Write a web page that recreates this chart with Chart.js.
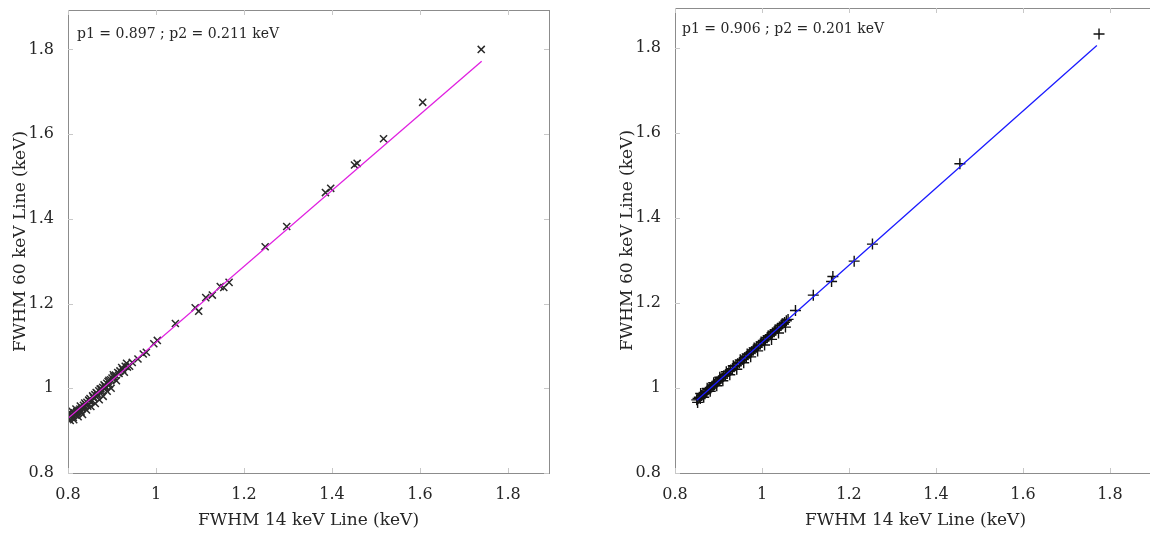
<!DOCTYPE html>
<html>
<head>
<meta charset="utf-8">
<script src="https://cdn.jsdelivr.net/npm/chart.js@4.4.0/dist/chart.umd.min.js"></script>
<style>
  html, body { margin: 0; padding: 0; background: #fff; overflow: hidden; width: 1150px; height: 534px; }
  canvas { position: absolute; top: 0; }
</style>
</head>
<body>
<canvas id="leftChart" width="560" height="534" style="left:0"></canvas>
<canvas id="rightChart" width="600" height="534" style="left:590px"></canvas>
<script>
// axis ticks shared by both panels
const tickValues = [0.8, 1, 1.2, 1.4, 1.6, 1.8];

// left panel: FWHM 14 keV vs 60 keV (x markers)
const leftX = [0.800, 0.802, 0.804, 0.806, 0.808, 0.810, 0.812, 0.815, 0.817, 0.820, 0.822, 0.825, 0.827, 0.830,
  0.832, 0.835, 0.837, 0.840, 0.843, 0.845, 0.848, 0.850, 0.853, 0.856, 0.858, 0.861, 0.864, 0.867, 0.870, 0.873,
  0.876, 0.879, 0.882, 0.885, 0.888, 0.891, 0.894, 0.897, 0.900, 0.904, 0.908, 0.913, 0.918, 0.924, 0.930, 0.935,
  0.801, 0.805, 0.809, 0.813, 0.818, 0.823, 0.828, 0.833, 0.838, 0.842, 0.847, 0.852, 0.857, 0.862, 0.866, 0.871,
  0.875, 0.880, 0.884, 0.889, 0.893, 0.898, 0.903, 0.910, 0.916, 0.922, 0.928, 0.933, 0.940, 0.946,
  0.959, 0.971, 0.978, 0.995, 1.003, 1.044, 1.089, 1.097, 1.113, 1.128, 1.146, 1.154, 1.166, 1.248, 1.297, 1.385,
  1.397, 1.451, 1.457, 1.517, 1.606, 1.739];
const leftY = [0.930, 0.928, 0.936, 0.932, 0.939, 0.935, 0.931, 0.942, 0.937, 0.945, 0.940, 0.948, 0.951, 0.944,
  0.953, 0.960, 0.955, 0.962, 0.967, 0.958, 0.971, 0.976, 0.969, 0.982, 0.977, 0.985, 0.990, 0.983, 0.994, 0.998,
  0.991, 1.002, 1.008, 1.001, 1.012, 1.016, 1.009, 1.020, 1.024, 1.027, 1.031, 1.037, 1.041, 1.045, 1.052, 1.050,
  0.941, 0.924, 0.946, 0.926, 0.951, 0.933, 0.958, 0.938, 0.965, 0.949, 0.972, 0.957, 0.980, 0.964, 0.988, 0.973,
  0.999, 0.981, 1.006, 0.993, 1.019, 1.000, 1.032, 1.018, 1.035, 1.049, 1.038, 1.059, 1.052, 1.061,
  1.069, 1.081, 1.085, 1.105, 1.113, 1.153, 1.190, 1.182, 1.214, 1.220, 1.240, 1.238, 1.250, 1.334, 1.382, 1.462,
  1.472, 1.527, 1.531, 1.589, 1.675, 1.800];
const leftFitX = [0.80, 1.74];
const leftFitY = [0.929, 1.772];
const leftNote = 'p1 = 0.897 ; p2 = 0.211 keV';

// right panel (+ markers)
const rightX = [0.850, 0.853, 0.856, 0.858, 0.861, 0.864, 0.867, 0.870, 0.873, 0.876, 0.879, 0.882, 0.885, 0.888,
  0.891, 0.894, 0.897, 0.900, 0.904, 0.908, 0.912, 0.916, 0.920, 0.924, 0.928, 0.932, 0.936, 0.940, 0.944, 0.948,
  0.952, 0.956, 0.960, 0.964, 0.968, 0.972, 0.976, 0.980, 0.984, 0.988, 0.992, 0.996, 1.000, 1.004, 1.008, 1.012,
  1.016, 1.020, 1.024, 1.028, 1.032, 1.036, 1.040, 1.044, 1.048, 1.052, 1.056, 1.060,
  0.852, 0.859, 0.866, 0.874, 0.881, 0.889, 0.896, 0.903, 0.910, 0.918, 0.926, 0.934, 0.942, 0.950, 0.958, 0.966,
  0.974, 0.982, 0.990, 0.998, 1.006, 1.014, 1.022, 1.030, 1.038, 1.046, 1.054,
  1.077, 1.118, 1.160, 1.163, 1.212, 1.254, 1.455, 1.775];
const rightY = [0.972, 0.975, 0.978, 0.975, 0.982, 0.984, 0.987, 0.990, 0.991, 0.996, 0.998, 1.000, 1.004, 1.006,
  1.008, 1.011, 1.014, 1.016, 1.021, 1.023, 1.028, 1.031, 1.034, 1.039, 1.042, 1.045, 1.050, 1.052, 1.057, 1.059,
  1.064, 1.067, 1.071, 1.074, 1.078, 1.082, 1.085, 1.089, 1.092, 1.096, 1.100, 1.103, 1.107, 1.111, 1.114, 1.118,
  1.122, 1.125, 1.129, 1.132, 1.136, 1.140, 1.143, 1.147, 1.151, 1.154, 1.158, 1.161,
  0.966, 0.987, 0.978, 0.999, 0.992, 1.012, 1.005, 1.025, 1.017, 1.038, 1.031, 1.052, 1.044, 1.066, 1.059, 1.080,
  1.073, 1.094, 1.087, 1.108, 1.101, 1.122, 1.114, 1.136, 1.129, 1.150, 1.143,
  1.182, 1.218, 1.250, 1.262, 1.298, 1.338, 1.527, 1.832];
const rightFitX = [0.85, 1.77];
const rightFitY = [0.971, 1.805];
const rightNote = 'p1 = 0.906 ; p2 = 0.201 keV';

const FONT = "'DejaVu Serif', 'Liberation Serif', serif";
const TEXT = '#262626';

function pts(xs, ys) { return xs.map((x, i) => ({ x: x, y: ys[i] })); }

// the axes should not push the plot box around, sizes are fixed here
function noPad(s) { s.paddingTop = 0; s.paddingBottom = 0; s.paddingLeft = 0; s.paddingRight = 0; }

// frame, inward ticks and the fit annotation
const framePlugin = {
  id: 'frame',
  afterDraw(chart, args, opts) {
    const { ctx, chartArea: a, scales } = chart;
    ctx.save();
    ctx.strokeStyle = '#8c8c8c';
    ctx.lineWidth = 1;
    ctx.strokeRect(a.left + 0.5, a.top + 0.5, a.right - a.left, a.bottom - a.top);
    ctx.strokeStyle = '#c8c8c8';
    ctx.beginPath();
    tickValues.forEach(v => {
      const px = Math.round(scales.x.getPixelForValue(v)) + 0.5;
      const py = Math.round(scales.y.getPixelForValue(v)) + 0.5;
      ctx.moveTo(px, a.bottom); ctx.lineTo(px, a.bottom - 5);
      ctx.moveTo(px, a.top); ctx.lineTo(px, a.top + 5);
      ctx.moveTo(a.left, py); ctx.lineTo(a.left + 5, py);
      ctx.moveTo(a.right, py); ctx.lineTo(a.right - 5, py);
    });
    ctx.stroke();
    ctx.fillStyle = TEXT;
    ctx.font = '14px ' + FONT;
    ctx.textBaseline = 'middle';
    ctx.fillText(opts.text, a.left + opts.dx, a.top + opts.dy);
    ctx.restore();
  }
};

function makeChart(id, xs, ys, fx, fy, note, marker, markerColor, lineColor, cfg) {
  const ctx = document.getElementById(id).getContext('2d');
  return new Chart(ctx, {
    type: 'scatter',
    data: {
      datasets: [
        {
          type: 'line',
          data: pts(fx, fy),
          borderColor: lineColor,
          borderWidth: 1.3,
          pointRadius: 0,
          fill: false,
          order: 0
        },
        {
          data: pts(xs, ys),
          pointStyle: marker,
          pointRadius: cfg.radius,
          pointBorderColor: markerColor,
          pointBackgroundColor: markerColor,
          pointBorderWidth: cfg.markerWidth,
          order: 1
        }
      ]
    },
    options: {
      responsive: false,
      animation: false,
      events: [],
      layout: { padding: { top: cfg.top, right: cfg.right, left: 0, bottom: 0 } },
      plugins: {
        legend: { display: false },
        tooltip: { enabled: false },
        frame: { text: note, dx: cfg.noteDx, dy: cfg.noteDy }
      },
      scales: {
        x: {
          type: 'linear',
          min: 0.8, max: cfg.xMax,
          grid: { display: false },
          border: { display: false },
          afterBuildTicks: s => { s.ticks = tickValues.map(v => ({ value: v })); },
          afterFit: s => { s.height = 61; noPad(s); },
          ticks: { color: TEXT, font: { family: FONT, size: 16 }, padding: 4, maxRotation: 0,
                   callback: v => String(+v.toFixed(1)) },
          title: { display: true, text: 'FWHM 14 keV Line (keV)', color: TEXT,
                   font: { family: FONT, size: 17 }, padding: { top: 0, bottom: 3 } }
        },
        y: {
          type: 'linear',
          min: 0.8, max: 1.893,
          grid: { display: false },
          border: { display: false },
          afterBuildTicks: s => { s.ticks = tickValues.map(v => ({ value: v })); },
          afterFit: s => { s.width = cfg.yWidth; noPad(s); },
          ticks: { color: TEXT, font: { family: FONT, size: 16 }, padding: 6,
                   callback: v => String(+v.toFixed(1)) },
          title: { display: true, text: 'FWHM 60 keV Line (keV)', color: TEXT,
                   font: { family: FONT, size: 17 }, padding: { top: cfg.yTitlePad, bottom: 0 } }
        }
      }
    },
    plugins: [framePlugin]
  });
}

makeChart('leftChart', leftX, leftY, leftFitX, leftFitY, leftNote, 'crossRot', '#2a2a2a', '#e020e0',
  { radius: 5, markerWidth: 1.5, top: 10, right: 11, yWidth: 68, yTitlePad: 10, noteDx: 9, noteDy: 24, xMax: 1.893 });
makeChart('rightChart', rightX, rightY, rightFitX, rightFitY, rightNote, 'cross', '#111', '#1a1aff',
  { radius: 5.5, markerWidth: 1.4, top: 8, right: 34, yWidth: 85, yTitlePad: 27, noteDx: 7, noteDy: 21, xMax: 1.906 });
</script>
</body>
</html>
